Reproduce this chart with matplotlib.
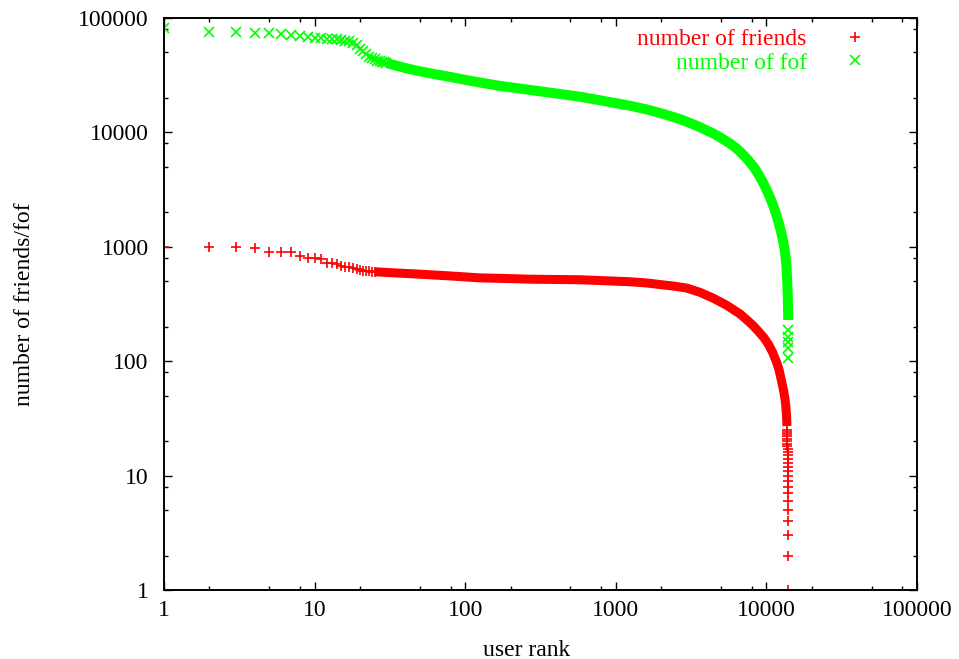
import matplotlib
matplotlib.use("Agg")
import matplotlib.pyplot as plt
from matplotlib.ticker import LogLocator, NullFormatter

# number of friends per user, sorted by rank
friend_head_rank = list(range(1, 26))
friend_head = [1000, 1000, 1000, 985, 895, 895, 895, 830, 805, 805,
               780, 720, 720, 705, 680, 670, 660, 650, 645, 627,
               620, 615, 610, 607, 605]
friend_body_rank = [25, 28, 35, 48, 80, 125, 170, 270, 580, 1240, 1600, 2070,
                    2470, 2950, 3620, 4450, 5450, 6680, 7380, 8150, 8930,
                    9640, 10330, 10980, 11580, 12120, 12600, 12990, 13290,
                    13490, 13620, 13700]
friend_body = [605, 600, 590, 578, 556, 535, 530, 521, 515, 495, 483, 464,
               452, 436, 400, 355, 308, 259, 231, 205, 180,
               160, 140, 120, 101, 84.6, 67.1, 56.0, 46.7,
               39.0, 32.5, 27.1]
friend_tail_rank = [13660, 13680, 13700, 13720, 13740, 13760, 13780, 13800,
                    13815, 13830, 13845, 13860, 13875, 13890, 13900, 13910,
                    13920, 13930, 13940, 13950, 13960, 13970, 13975, 13985, 13995]
friend_tail = [25, 24, 23, 22, 21, 20, 19, 18, 17, 16, 15, 14, 13, 12, 11,
               10, 9, 8, 7, 6, 5, 4, 3, 2, 1]

# number of friends-of-friends
fof_head_rank = list(range(1, 31))
fof_head = [81000, 76000, 75000, 74500, 74500, 72000, 71000, 69000, 68000, 67200,
            66800, 66000, 65500, 65000, 64300, 63500, 62500, 61000, 58500, 54000,
            51000, 48000, 46000, 44500, 43500, 42500, 42000, 41500, 41000, 40500]
fof_body_rank = [30, 32, 40, 50, 65, 80, 100, 125, 170, 270, 400, 580, 800,
                 1240, 1600, 2070, 2700, 3440, 4500, 5070, 5730, 6290, 6890,
                 7550, 8280, 8870, 9490, 10090, 10610, 11180, 11700, 12190,
                 12640, 12970, 13230, 13400, 13550, 13740, 13870, 13970]
fof_body = [40500, 39500, 36500, 34200, 32000, 30500, 28800, 27300, 25500,
            23500, 21900, 20500, 19000, 17100, 15900, 14500, 13000, 11450,
            9700, 8850, 8000, 7300, 6540, 5740, 4940, 4290, 3650, 3100,
            2670, 2230, 1860, 1540, 1280, 1090, 938, 814, 707, 513, 364, 229]
fof_tail_rank = [13990, 14000, 14005, 14010, 14015]
fof_tail = [187, 164, 148, 130, 106]

ticks = [1, 10, 100, 1000, 10000, 100000]
tick_labels = ["1", "10", "100", "1000", "10000", "100000"]

RED = "#ff0000"
GREEN = "#00ff00"

plt.rcParams["font.family"] = ["Liberation Serif", "DejaVu Serif"]

fig = plt.figure(figsize=(9.59, 6.59), dpi=100)
ax = fig.add_axes([0.1710, 0.1047, 0.7852, 0.8680])
ax.set_xscale("log")
ax.set_yscale("log")

# friends
ax.plot(friend_body_rank, friend_body, color=RED, lw=6.5,
        solid_capstyle="butt", solid_joinstyle="round")
ax.plot(friend_head_rank, friend_head, ls="none", marker="+", ms=7.5, mew=1.2,
        color=RED, label="number of friends")
ax.plot(friend_tail_rank, friend_tail, ls="none", marker="+", ms=7.5, mew=1.2,
        color=RED)

# fof
ax.plot(fof_body_rank, fof_body, color=GREEN, lw=7.2,
        solid_capstyle="butt", solid_joinstyle="round")
ax.plot(fof_head_rank, fof_head, ls="none", marker="x", ms=7, mew=1.2,
        color=GREEN, label="number of fof")
ax.plot(fof_tail_rank, fof_tail, ls="none", marker="x", ms=7, mew=1.2,
        color=GREEN)

ax.set_xlim(1, 100000)
ax.set_ylim(1, 100000)
ax.set_xticks(ticks)
ax.set_xticklabels(tick_labels)
ax.set_yticks(ticks)
ax.set_yticklabels(tick_labels)
for axis in (ax.xaxis, ax.yaxis):
    axis.set_minor_locator(LogLocator(base=10, subs=(2, 5, 8), numticks=20))
    axis.set_minor_formatter(NullFormatter())

ax.tick_params(which="both", direction="in", top=True, right=True,
               labelsize=17, width=1.0)
ax.tick_params(which="major", length=6)
ax.tick_params(which="minor", length=3)
ax.tick_params(axis="x", pad=7.5)
ax.tick_params(axis="y", pad=11)
for sp in ax.spines.values():
    sp.set_linewidth(1.4)

ax.set_xlabel("user rank", fontsize=17)
ax.set_ylabel("number of friends/fof", fontsize=17)
ax.xaxis.set_label_coords(0.482, -0.087)
ax.yaxis.set_label_coords(-0.171, 0.5)

leg = ax.legend(loc="upper right", bbox_to_anchor=(0.949, 0.981), frameon=False,
                markerfirst=False, labelcolor="linecolor", fontsize=17,
                numpoints=1, handlelength=2.0, handletextpad=1.04,
                borderaxespad=0, borderpad=0, labelspacing=0.07)

fig.savefig("out.png", dpi=100)
